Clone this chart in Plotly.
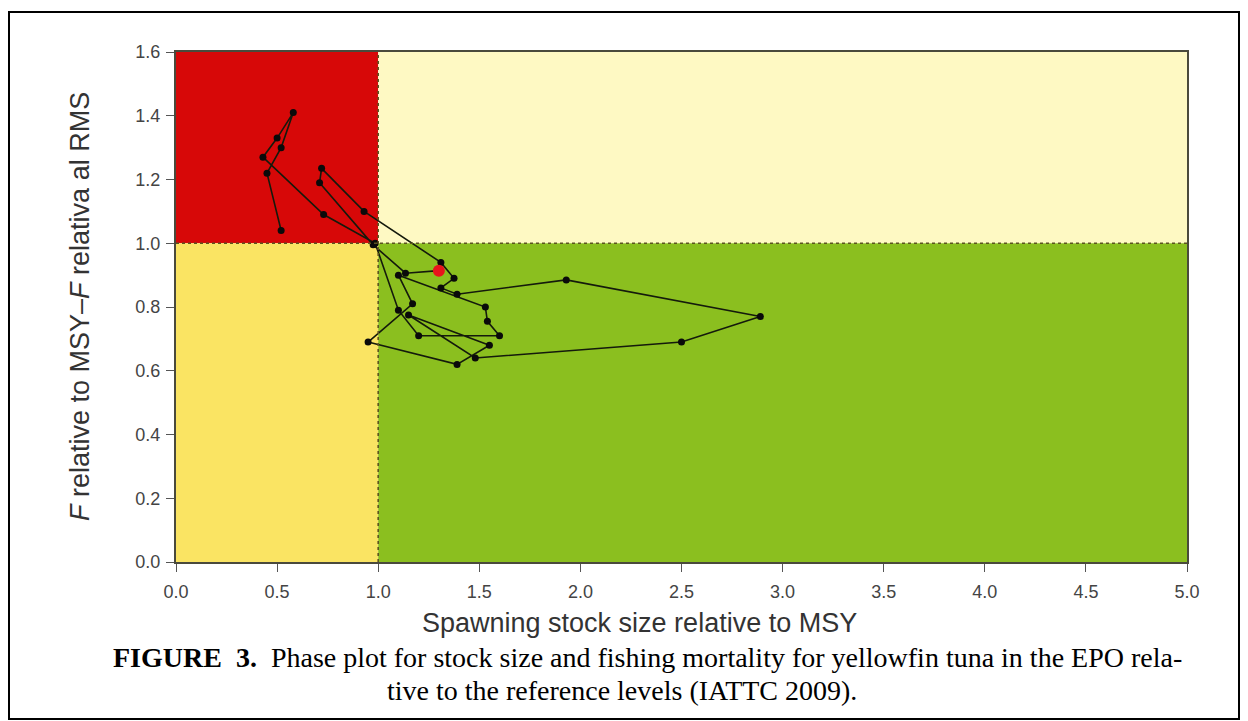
import plotly.graph_objects as go

# Stock status trajectory: spawning stock size and fishing mortality,
# both relative to their MSY reference points, in chronological order
ssb_ratio = [0.52, 0.45, 0.52, 0.58, 0.50, 0.43, 0.73, 0.985, 1.10, 1.20,
             1.60, 1.54, 1.53, 1.10, 1.17, 0.95, 1.39, 1.55, 1.15, 1.48,
             2.50, 2.89, 1.93, 1.39, 1.31, 1.375, 1.31, 0.93, 0.72, 0.71,
             0.975, 1.135, 1.30]
f_ratio = [1.04, 1.22, 1.30, 1.41, 1.33, 1.27, 1.09, 1.00, 0.79, 0.71,
           0.71, 0.755, 0.80, 0.90, 0.81, 0.69, 0.62, 0.68, 0.775, 0.64,
           0.69, 0.77, 0.885, 0.84, 0.86, 0.89, 0.94, 1.10, 1.235, 1.19,
           0.995, 0.906, 0.914]

x_ticks = [0.0, 0.5, 1.0, 1.5, 2.0, 2.5, 3.0, 3.5, 4.0, 4.5, 5.0]
y_ticks = [0.0, 0.2, 0.4, 0.6, 0.8, 1.0, 1.2, 1.4, 1.6]

x_title = "Spawning stock size relative to MSY"
y_title = "<i>F</i> relative to MSY\u2013<i>F</i> relativa al RMS"
caption_1 = ("<b>FIGURE&nbsp;&nbsp;3.</b>&nbsp;&nbsp;Phase plot for stock size and fishing "
             "mortality for yellowfin tuna in the EPO rela-")
caption_2 = "tive to the reference levels (IATTC 2009)."

W, H = 1248, 721
ML, MR, MT, MB = 176, 61, 52, 159
PW, PH = W - ML - MR, H - MT - MB

SANS = "Liberation Sans, Arial, sans-serif"
SERIF = "Liberation Serif, Times New Roman, serif"


def px(x):
    return (x - ML) / PW


def py(y):
    return (H - MB - y) / PH


fig = go.Figure()

# reference-point quadrants
zones = [
    (0, 1, 1, 1.6, "#D70808"),
    (1, 5, 1, 1.6, "#FEF9C3"),
    (0, 1, 0, 1, "#FAE463"),
    (1, 5, 0, 1, "#8BBF1F"),
]
for x0, x1, y0, y1, col in zones:
    fig.add_shape(type="rect", xref="x", yref="y", x0=x0, x1=x1, y0=y0, y1=y1,
                  fillcolor=col, line_width=0, layer="below")

# dotted MSY reference lines
fig.add_shape(type="line", xref="x", yref="y", x0=1, x1=1, y0=0, y1=1.6,
              line=dict(color="#5c5420", width=1.6, dash="dot"))
fig.add_shape(type="line", xref="x", yref="y", x0=0, x1=5, y0=1, y1=1,
              line=dict(color="#5c5420", width=1.6, dash="dot"))

fig.add_trace(go.Scatter(
    x=ssb_ratio, y=f_ratio, mode="lines+markers",
    line=dict(color="#141a0c", width=1.6),
    marker=dict(color="#0a0a0a", size=7),
    hoverinfo="skip", showlegend=False,
))

# most recent estimate
fig.add_trace(go.Scatter(
    x=ssb_ratio[-1:], y=f_ratio[-1:], mode="markers",
    marker=dict(color="#E8141C", size=12),
    hoverinfo="skip", showlegend=False,
))

axis_common = dict(
    showgrid=False, zeroline=False, showline=True, mirror=True,
    linecolor="#4a4a3c", linewidth=2,
    ticks="outside", ticklen=8, tickwidth=1, tickcolor="#555555",
    tickfont=dict(family=SANS, size=18, color="#444444"),
)

fig.update_xaxes(range=[0, 5], tickvals=x_ticks,
                 ticktext=[f"{v:.1f}" for v in x_ticks], ticklabelstandoff=4,
                 **axis_common)
fig.update_yaxes(range=[0, 1.6], tickvals=y_ticks,
                 ticktext=[f"{v:.1f}" for v in y_ticks], ticklabelstandoff=2,
                 **axis_common)

annotations = [
    dict(text=x_title, x=px(639), y=py(623), xref="paper", yref="paper",
         showarrow=False, xanchor="center", yanchor="middle",
         font=dict(family=SANS, size=27, color="#333333")),
    dict(text=y_title, x=px(80), y=py(307), xref="paper", yref="paper",
         showarrow=False, xanchor="center", yanchor="middle", textangle=-90,
         font=dict(family=SANS, size=27, color="#333333")),
    dict(text=caption_1, x=px(111), y=py(657), xref="paper", yref="paper",
         showarrow=False, xanchor="left", yanchor="middle",
         font=dict(family=SERIF, size=28, color="#000000")),
    dict(text=caption_2, x=px(622), y=py(690), xref="paper", yref="paper",
         showarrow=False, xanchor="center", yanchor="middle",
         font=dict(family=SERIF, size=28, color="#000000")),
]

# outer frame of the figure
fig.add_shape(type="rect", xref="paper", yref="paper",
              x0=px(9), x1=px(1239), y0=py(719), y1=py(12),
              line=dict(color="#000000", width=2), fillcolor="rgba(0,0,0,0)")

fig.update_layout(
    width=W, height=H,
    margin=dict(l=ML, r=MR, t=MT, b=MB),
    paper_bgcolor="white", plot_bgcolor="white",
    annotations=annotations,
)

fig.write_html("out.html")
